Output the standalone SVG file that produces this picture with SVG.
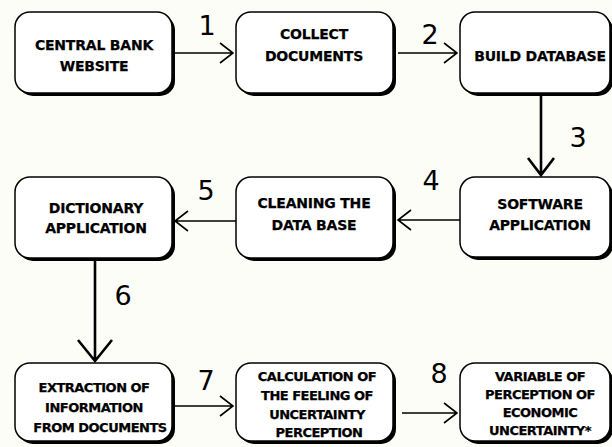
<svg xmlns="http://www.w3.org/2000/svg" width="612" height="447" viewBox="0 0 612 447">
<defs>
<style>
.sh{fill:#000}
.bx{fill:#fff;stroke:#000;stroke-width:1.5}
.t{font-family:"DejaVu Sans",sans-serif;font-weight:bold;font-size:14px;letter-spacing:-0.2px;text-anchor:middle;fill:#000;stroke:#000;stroke-width:0.25}
.t2{font-family:"DejaVu Sans",sans-serif;font-weight:bold;font-size:13px;letter-spacing:-0.5px;text-anchor:middle;fill:#000;stroke:#000;stroke-width:0.25}
.n{font-family:"DejaVu Sans",sans-serif;font-size:27px;text-anchor:middle;fill:#000}
.ln{fill:none;stroke:#000;stroke-width:1.6;stroke-linejoin:miter}
.lt{fill:none;stroke:#000;stroke-width:2.6}
</style>
</defs>
<rect width="612" height="447" fill="#fdfdf8"/>
<g id="n1"><rect class="sh" x="18" y="15" width="157" height="81" rx="15"/><rect class="bx" x="15" y="12" width="157" height="81" rx="15"/>
<text class="t" x="94" y="50">CENTRAL BANK</text><text class="t" x="94" y="71">WEBSITE</text></g>
<g id="n2"><rect class="sh" x="239" y="15" width="157" height="81" rx="15"/><rect class="bx" x="236" y="12" width="157" height="81" rx="15"/>
<text class="t" x="314" y="39">COLLECT</text><text class="t" x="314" y="61">DOCUMENTS</text></g>
<g id="n3"><rect class="sh" x="463" y="15" width="150" height="81" rx="15"/><rect class="bx" x="460" y="12" width="150" height="81" rx="15"/>
<text class="t" x="540" y="61">BUILD DATABASE</text></g>
<g id="n4"><rect class="sh" x="463" y="180" width="150" height="80" rx="15"/><rect class="bx" x="460" y="177" width="150" height="80" rx="15"/>
<text class="t" x="540" y="209">SOFTWARE</text><text class="t" x="540" y="230">APPLICATION</text></g>
<g id="n5"><rect class="sh" x="239" y="180" width="157" height="81" rx="15"/><rect class="bx" x="236" y="177" width="157" height="81" rx="15"/>
<text class="t" x="314" y="208">CLEANING THE</text><text class="t" x="314" y="230">DATA BASE</text></g>
<g id="n6"><rect class="sh" x="18" y="180" width="157" height="81" rx="15"/><rect class="bx" x="15" y="177" width="157" height="81" rx="15"/>
<text class="t" x="96" y="213">DICTIONARY</text><text class="t" x="96" y="233">APPLICATION</text></g>
<g id="n7"><rect class="sh" x="18" y="366" width="157" height="78" rx="15"/><rect class="bx" x="15" y="363" width="157" height="78" rx="15"/>
<text class="t2" x="94" y="392">EXTRACTION OF</text><text class="t2" x="94" y="412">INFORMATION</text><text class="t2" x="100" y="432">FROM DOCUMENTS</text></g>
<g id="n8"><rect class="sh" x="239" y="366" width="157" height="78" rx="15"/><rect class="bx" x="236" y="363" width="157" height="78" rx="15"/>
<text class="t2" x="317" y="381">CALCULATION OF</text><text class="t2" x="317" y="400">THE FEELING OF</text><text class="t2" x="317" y="419">UNCERTAINTY</text><text class="t2" x="319" y="437">PERCEPTION</text></g>
<g id="n9"><rect class="sh" x="463" y="366" width="150" height="78" rx="15"/><rect class="bx" x="460" y="363" width="150" height="78" rx="15"/>
<text class="t2" x="540" y="381">VARIABLE OF</text><text class="t2" x="540" y="399">PERCEPTION OF</text><text class="t2" x="540" y="417">ECONOMIC</text><text class="t2" x="540" y="435">UNCERTAINTY*</text></g>
<g id="connectors">
<path class="ln" d="M175 53H233M220 43L233 53L220 63"/>
<path class="ln" d="M398 53H457M444 43L457 53L444 63"/>
<path class="lt" d="M541 95V175M528 158L541 175L554 158"/>
<path class="ln" d="M460 220H398M411 210L398 220L411 230"/>
<path class="ln" d="M236 221H175M188 211L175 221L188 231"/>
<path class="lt" d="M95 261V361M78 340L95 361L112 340"/>
<path class="ln" d="M175 406H233M220 396L233 406L220 416"/>
<path class="ln" d="M402 413H457M444 403L457 413L444 423"/>
<text class="n" x="207" y="35">1</text>
<text class="n" x="430" y="44">2</text>
<text class="n" x="578" y="147">3</text>
<text class="n" x="431" y="190">4</text>
<text class="n" x="206" y="200">5</text>
<text class="n" x="123" y="305">6</text>
<text class="n" x="206" y="390">7</text>
<text class="n" x="439" y="383">8</text>
</g>
</svg>
